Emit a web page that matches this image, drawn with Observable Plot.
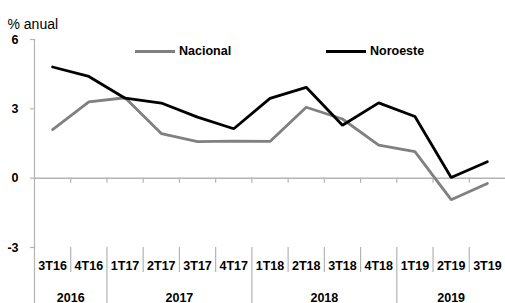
<!DOCTYPE html>
<html>
<head>
<meta charset="utf-8">
<script src="https://cdn.jsdelivr.net/npm/d3@7"></script>
<script src="https://cdn.jsdelivr.net/npm/@observablehq/plot@0.6"></script>
<style>
  html, body { margin: 0; padding: 0; background: #fff; }
  #wrap { position: relative; width: 505px; height: 303px; overflow: hidden; font-family: "Liberation Sans", Arial, sans-serif; }
  #wrap svg g[aria-label^="y-axis"] path, #wrap svg g[aria-label^="y-axis"] line { stroke: #b4b4b4; stroke-width: 1.2px; }
  .lg { position: absolute; top: 44px; font-size: 12.5px; font-weight: bold; color: #000; display: flex; align-items: center; }
  .lg span.sw { display: inline-block; width: 40px; height: 3px; margin-right: 4px; }
</style>
</head>
<body>
<div id="wrap"></div>
<script>
const quarters = ["3T16","4T16","1T17","2T17","3T17","4T17","1T18","2T18","3T18","4T18","1T19","2T19","3T19"];
const nacional = [2.1, 3.3, 3.48, 1.93, 1.58, 1.6, 1.59, 3.07, 2.56, 1.43, 1.15, -0.93, -0.23];
const noroeste = [4.81, 4.4, 3.46, 3.25, 2.64, 2.14, 3.45, 3.93, 2.29, 3.26, 2.67, 0.03, 0.71];
const yearLabels = ["2016","2017","2018","2019"];
const yearQuarters = [2, 4, 4, 3];
const yTicks = [-3, 0, 3, 6];
const seriesNames = ["Nacional", "Noroeste"];
const seriesColors = ["#808080", "#000000"];

const rows = [];
quarters.forEach((q, i) => {
  rows.push({i: i + 0.5, q, serie: seriesNames[0], v: nacional[i]});
  rows.push({i: i + 0.5, q, serie: seriesNames[1], v: noroeste[i]});
});
const qLabels = quarters.map((q, i) => ({i: i + 0.5, q}));
const qBounds = d3.range(1, quarters.length);
let acc = 0;
const years = yearLabels.map((y, k) => { const s = acc; acc += yearQuarters[k]; return {y, mid: (s + acc) / 2, end: acc}; });
const yearBounds = years.slice(0, -1).map(d => d.end);
const quarterOnlyBounds = qBounds.filter(b => !yearBounds.includes(b));

const axisColor = "#b4b4b4";
const font = "'Liberation Sans', Arial, sans-serif";

const chart = Plot.plot({
  width: 505,
  height: 303,
  marginLeft: 34,
  marginRight: 0,
  marginTop: 39,
  marginBottom: 56,
  style: {fontFamily: font, fontSize: "12.5px", fontWeight: "bold", color: "#000", background: "#fff", overflow: "visible"},
  x: {domain: [0, quarters.length], axis: null},
  y: {domain: [-3, 6], ticks: yTicks, tickSize: 4, tickPadding: 12, tickFormat: d => String(d), label: null},
  marks: [
    Plot.ruleX([0], {stroke: axisColor, strokeWidth: 1.2, insetBottom: -56}),
    Plot.ruleY([0], {stroke: axisColor, strokeWidth: 1.5}),
    Plot.ruleX(qBounds, {x: d => d, y1: 0, y2: -0.22, stroke: axisColor, strokeWidth: 1.2}),
    Plot.ruleX(quarterOnlyBounds, {x: d => d, stroke: axisColor, strokeWidth: 1.2, insetTop: 208, insetBottom: -25}),
    Plot.ruleX(yearBounds, {x: d => d, stroke: axisColor, strokeWidth: 1.2, insetTop: 208, insetBottom: -56}),
    Plot.text(qLabels, {x: "i", y: -3, text: "q", dy: 18, fill: "#000"}),
    Plot.text(years, {x: "mid", y: -3, text: "y", dy: 50, fill: "#000"}),
    Plot.line(rows, {x: "i", y: "v", z: "serie", stroke: d => seriesColors[seriesNames.indexOf(d.serie)], strokeWidth: 2.8, strokeLinejoin: "miter"}),
    Plot.text(["% anual"], {frameAnchor: "top-left", text: d => d, dx: -27, dy: -20, textAnchor: "start", fontWeight: "normal", fontSize: 14, fill: "#000"})
  ]
});

const wrap = document.getElementById("wrap");
wrap.appendChild(chart);

const legendPos = [135, 326];
seriesNames.forEach((n, k) => {
  const d = document.createElement("div");
  d.className = "lg";
  d.style.left = legendPos[k] + "px";
  d.innerHTML = `<span class="sw" style="background:${seriesColors[k]}"></span>${n}`;
  wrap.appendChild(d);
});
</script>
</body>
</html>
